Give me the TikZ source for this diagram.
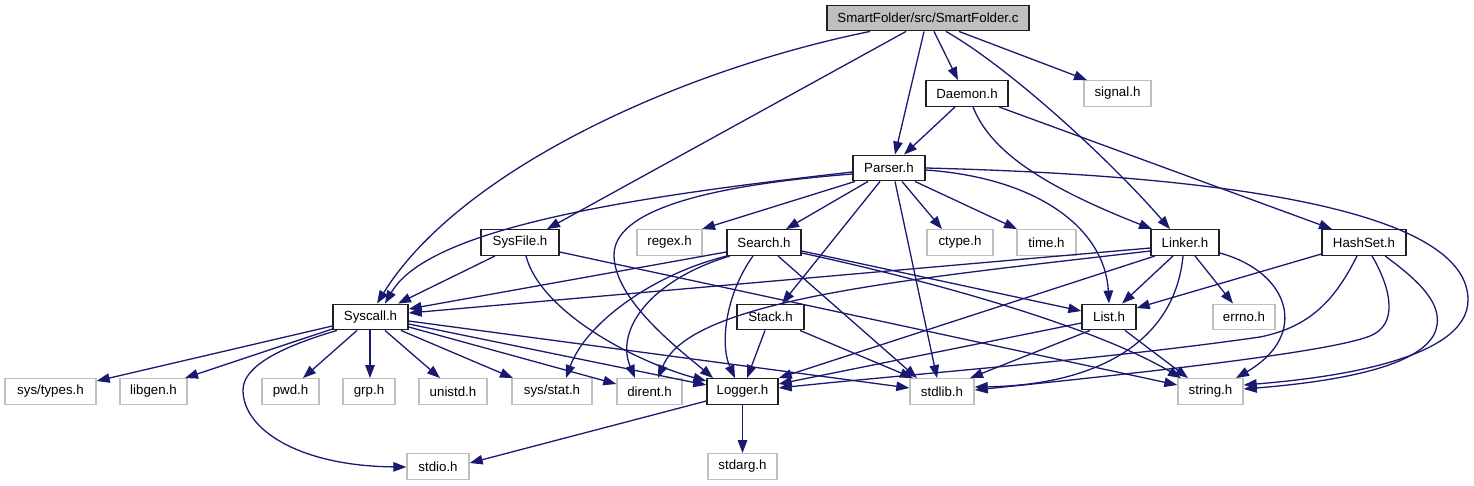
\documentclass[tikz,border=0pt]{standalone}
\usepackage{fontspec}
\setmainfont{Liberation Sans}
\usetikzlibrary{arrows.meta}
\definecolor{edgecol}{HTML}{191970}
\definecolor{lightgr}{HTML}{BFBFBF}
\definecolor{darkbd}{HTML}{202020}
\tikzset{
  hdr/.style={draw=darkbd, line width=1.4pt, fill=white, minimum width=#1, minimum height=25.5pt, inner sep=0pt, font=\fontsize{13.3}{16}\selectfont},
  sys/.style={draw=lightgr, line width=1.4pt, fill=white, minimum width=#1, minimum height=25.5pt, inner sep=0pt, font=\fontsize{13.3}{16}\selectfont},
  rootbox/.style={draw=darkbd, line width=1.4pt, fill=lightgr, minimum width=#1, minimum height=25.5pt, inner sep=0pt, font=\fontsize{13.3}{16}\selectfont},
  dep/.style={draw=edgecol, line width=1.3pt, -{Triangle[length=13pt,width=9.5pt]}}
}
\begin{document}
\begin{tikzpicture}[x=1pt,y=-1pt]
\useasboundingbox (0,0) rectangle (1474,485);
% nodes
\node[rootbox=202pt] (root) at (928,18) {SmartFolder/src/SmartFolder.c};
\node[hdr=82pt] (daemon) at (967,93.5) {Daemon.h};
\node[sys=67pt] (signal) at (1117.5,93.5) {signal.h};
\node[hdr=72pt] (parser) at (889,168) {Parser.h};
\node[hdr=78pt] (sysfile) at (520,242.5) {SysFile.h};
\node[sys=65pt] (regex) at (669.5,242.5) {regex.h};
\node[hdr=74pt] (search) at (764,242.5) {Search.h};
\node[sys=66pt] (ctype) at (960,242.5) {ctype.h};
\node[sys=59pt] (time) at (1046.5,242.5) {time.h};
\node[hdr=68pt] (linker) at (1185,242.5) {Linker.h};
\node[hdr=84pt] (hashset) at (1364,242.5) {HashSet.h};
\node[hdr=75pt] (syscall) at (370.5,317) {Syscall.h};
\node[hdr=67pt] (stack) at (770.5,317) {Stack.h};
\node[hdr=54pt] (list) at (1109,317) {List.h};
\node[sys=62pt] (errno) at (1244,317) {errno.h};
\node[sys=91pt] (systypes) at (50.5,391.5) {sys/types.h};
\node[sys=67pt] (libgen) at (153.5,391.5) {libgen.h};
\node[sys=57pt] (pwd) at (290.5,391.5) {pwd.h};
\node[sys=52pt] (grp) at (369,391.5) {grp.h};
\node[sys=68pt] (unistd) at (453,391.5) {unistd.h};
\node[sys=80pt] (sysstat) at (552,391.5) {sys/stat.h};
\node[sys=65pt] (dirent) at (649.5,391.5) {dirent.h};
\node[hdr=71pt] (logger) at (742.5,391.5) {Logger.h};
\node[sys=64pt] (stdlib) at (942,391.5) {stdlib.h};
\node[sys=65pt] (string) at (1210.5,391.5) {string.h};
\node[sys=62pt] (stdio) at (438,466.5) {stdio.h};
\node[sys=69pt] (stdarg) at (742.5,466.5) {stdarg.h};
% root edges
\draw[dep] (870,0 |- root.south) .. controls (680,70) and (460,170) .. (377,0 |- syscall.north);
\draw[dep] (906,0 |- root.south) -- (547,0 |- sysfile.north);
\draw[dep] (924,0 |- root.south) -- (895,0 |- parser.north);
\draw[dep] (934,0 |- root.south) -- (958,0 |- daemon.north);
\draw[dep] (946,0 |- root.south) .. controls (1010,68) and (1110,160) .. (1170,0 |- linker.north);
\draw[dep] (959,0 |- root.south) -- (1087,0 |- signal.north);
% daemon
\draw[dep] (955,0 |- daemon.south) -- (904,0 |- parser.north);
\draw[dep] (973,0 |- daemon.south) .. controls (990,150) and (1040,185) .. (1152,0 |- linker.north);
\draw[dep] (999,0 |- daemon.south) -- (1332,0 |- hashset.north);
% parser
\draw[dep] (parser.west |- 0,172) .. controls (650,195) and (430,225) .. (385,0 |- syscall.north);
\draw[dep] (parser.west |- 0,174) .. controls (700,186) and (614,212) .. (614,255) .. controls (614,300) and (680,350) .. (713,0 |- logger.north);
\draw[dep] (855,0 |- parser.south) -- (702,0 |- regex.north);
\draw[dep] (868,0 |- parser.south) -- (786,0 |- search.north);
\draw[dep] (880,0 |- parser.south) -- (782,0 |- stack.north);
\draw[dep] (895,0 |- parser.south) -- (937,0 |- stdlib.north);
\draw[dep] (902,0 |- parser.south) -- (942,0 |- ctype.north);
\draw[dep] (915,0 |- parser.south) -- (1017,0 |- time.north);
\draw[dep] (parser.east |- 0,170) .. controls (1040,178) and (1105,230) .. (1109,0 |- list.north);
\draw[dep] (parser.east |- 0,168) .. controls (1250,176) and (1468,215) .. (1468,300) .. controls (1468,360) and (1330,378) .. (string.east |- 0,385);
% sysfile
\draw[dep] (495,0 |- sysfile.south) -- (398,0 |- syscall.north);
\draw[dep] (526,0 |- sysfile.south) .. controls (540,310) and (630,360) .. (logger.west |- 0,381);
\draw[dep] (sysfile.east |- 0,252) -- (string.west |- 0,385);
% search
\draw[dep] (search.west |- 0,252) -- (syscall.east |- 0,309);
\draw[dep] (727,0 |- search.south) .. controls (650,275) and (585,325) .. (566,0 |- sysstat.north);
\draw[dep] (730,0 |- search.south) .. controls (650,280) and (615,330) .. (635,0 |- dirent.north);
\draw[dep] (753,0 |- search.south) .. controls (725,295) and (720,345) .. (735,0 |- logger.north);
\draw[dep] (778,0 |- search.south) -- (917,0 |- stdlib.north);
\draw[dep] (search.east |- 0,251) -- (list.west |- 0,311);
\draw[dep] (search.east |- 0,253) .. controls (950,285) and (1100,330) .. (1181,0 |- string.north);
% stack
\draw[dep] (765,0 |- stack.south) -- (747,0 |- logger.north);
\draw[dep] (800,0 |- stack.south) -- (913,0 |- stdlib.north);
% linker
\draw[dep] (linker.west |- 0,248) -- (syscall.east |- 0,313);
\draw[dep] (linker.west |- 0,251) .. controls (900,280) and (690,300) .. (658,0 |- dirent.north);
\draw[dep] (1155,0 |- linker.south) -- (logger.north east);
\draw[dep] (1173,0 |- linker.south) -- (1122,0 |- list.north);
\draw[dep] (1183,0 |- linker.south) .. controls (1175,340) and (1100,385) .. (stdlib.east |- 0,387);
\draw[dep] (1195,0 |- linker.south) -- (1233,0 |- errno.north);
\draw[dep] (linker.east |- 0,253) .. controls (1290,272) and (1310,335) .. (1236,0 |- string.north);
% hashset
\draw[dep] (hashset.west |- 0,254) -- (list.east |- 0,308);
\draw[dep] (1357,0 |- hashset.south) .. controls (1335,300) and (1310,327) .. (1260,337) .. controls (1100,360) and (900,375) .. (logger.east |- 0,388);
\draw[dep] (1372,0 |- hashset.south) .. controls (1392,290) and (1398,325) .. (1370,336) .. controls (1330,352) and (1150,372) .. (stdlib.east |- 0,390);
\draw[dep] (1385,0 |- hashset.south) .. controls (1425,285) and (1440,305) .. (1437,325) .. controls (1433,355) and (1380,378) .. (string.east |- 0,389);
% list
\draw[dep] (list.west |- 0,323) -- (logger.east |- 0,384);
\draw[dep] (1090,0 |- list.south) -- (970,0 |- stdlib.north);
\draw[dep] (1125,0 |- list.south) -- (1188,0 |- string.north);
% syscall
\draw[dep] (syscall.west |- 0,326) -- (systypes.east |- 0,381);
\draw[dep] (syscall.west |- 0,329) -- (185,0 |- libgen.north);
\draw[dep] (337,0 |- syscall.south) .. controls (270,350) and (243,370) .. (243,390) .. controls (243,430) and (300,466) .. (stdio.west |- 0,467);
\draw[dep] (357,0 |- syscall.south) -- (303,0 |- pwd.north);
\draw[dep] (370,0 |- syscall.south) -- (370,0 |- grp.north);
\draw[dep] (385,0 |- syscall.south) -- (440,0 |- unistd.north);
\draw[dep] (401,0 |- syscall.south) -- (513,0 |- sysstat.north);
\draw[dep] (syscall.east |- 0,327) -- (dirent.west |- 0,384);
\draw[dep] (syscall.east |- 0,324) -- (logger.west |- 0,385);
\draw[dep] (syscall.east |- 0,321) -- (stdlib.west |- 0,388);
% logger
\draw[dep] (logger.west |- 0,401) -- (stdio.east |- 0,463);
\draw[dep] (logger) -- (stdarg);
\end{tikzpicture}
\end{document}
